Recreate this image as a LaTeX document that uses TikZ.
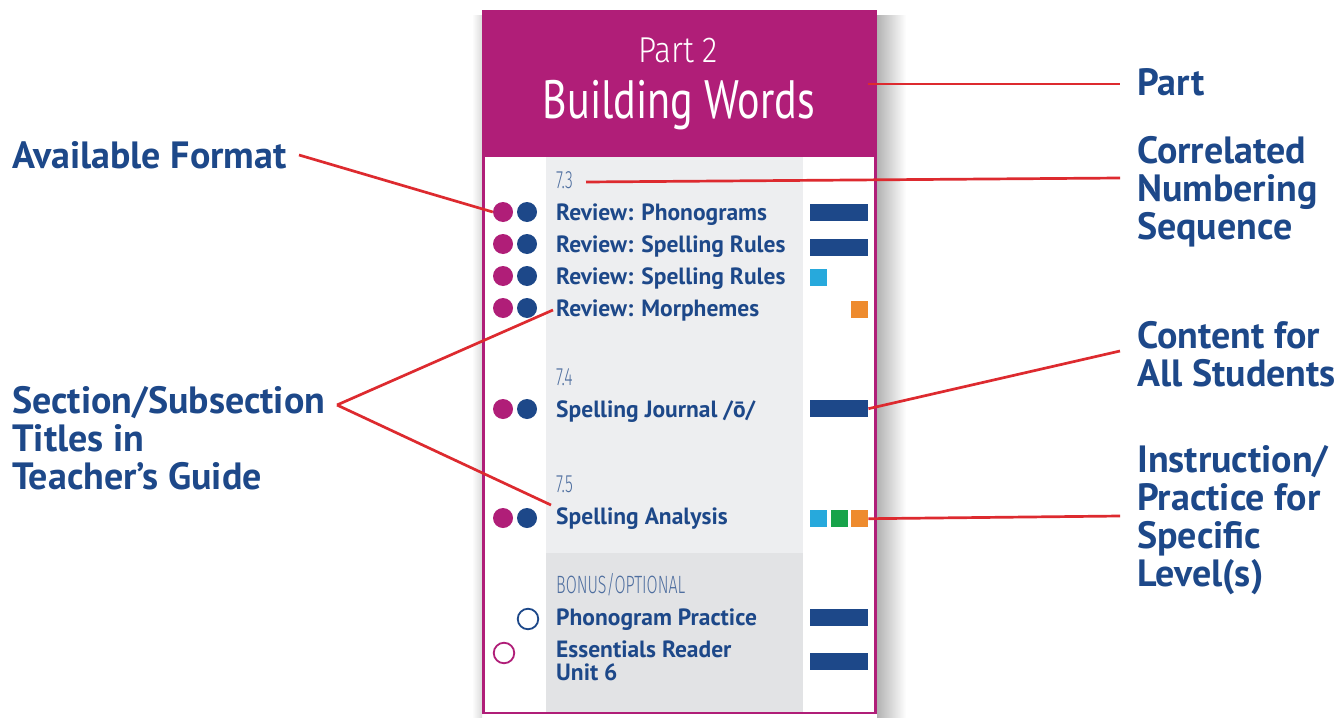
\documentclass[tikz,border=0pt]{standalone}
\usepackage{fontspec}
\setmainfont{PT Sans}
\newfontfamily\titlefont[FakeStretch=0.78]{PT Sans}
\newfontfamily\lightfont[FakeStretch=0.64]{Fira Sans Light}
\newfontfamily\partfont[FakeStretch=0.88]{Fira Sans Light}
\definecolor{mag}{HTML}{B01E78}
\definecolor{navy}{HTML}{1D4889}
\definecolor{cyanb}{HTML}{27A9DC}
\definecolor{greenb}{HTML}{17A34A}
\definecolor{orangeb}{HTML}{EE8B2E}
\definecolor{redl}{HTML}{DD2A2F}
\definecolor{numc}{HTML}{4E6E9F}
\definecolor{panel}{HTML}{EDEEF0}
\definecolor{panelb}{HTML}{E2E3E5}
\newcommand\mlines[1]{\begin{tabular}[t]{@{}l@{}}#1\end{tabular}}
\begin{document}
\begin{tikzpicture}[x=1pt,y=-1pt,
  lbl/.style={anchor=base west, inner sep=0pt, text=navy, font={\fontsize{38}{37.3}\selectfont\bfseries}},
  item/.style={anchor=base west, inner sep=0pt, text=navy, font={\fontsize{23.5}{23}\selectfont\bfseries}},
  num/.style={anchor=base west, inner sep=0pt, text=numc, font={\lightfont\fontsize{25}{25}\selectfont}},
  dotm/.style={circle, fill=mag, minimum size=20pt, inner sep=0pt},
  dotb/.style={circle, fill=navy, minimum size=20pt, inner sep=0pt},
  ringm/.style={circle, draw=mag, line width=1.8pt, fill=white, minimum size=20.5pt, inner sep=0pt},
  ringb/.style={circle, draw=navy, line width=1.8pt, fill=white, minimum size=20.5pt, inner sep=0pt},
  bar/.style={fill=navy, minimum width=58pt, minimum height=17pt, inner sep=0pt, anchor=north west},
  sq/.style={minimum width=17pt, minimum height=17pt, inner sep=0pt, anchor=north west},
  conn/.style={draw=redl, line width=2.7pt}]
\useasboundingbox (0,0) rectangle (1335,717);
\fill[white] (0,0) rectangle (1335,717);
% card shadow
\fill[left color=black!30, right color=white] (877,16) rectangle (906,717);
\fill[left color=white, right color=black!14] (472,16) rectangle (482,717);
% card body
\fill[white] (482,10) rectangle (877,714);
\fill[panel] (546,157) rectangle (803,553);
\fill[panelb] (546,553) rectangle (803,712);
\draw[mag, line width=2.5pt] (483.5,11) rectangle (875.5,713);
\fill[mag] (482,10) rectangle (877,157);
\node[anchor=base, inner sep=0pt, text=white, font={\partfont\fontsize{36}{36}\selectfont}] (part2) at (678,63) {Part 2};
\node[anchor=base, inner sep=0pt, text=white, font={\titlefont\fontsize{54}{54}\selectfont}] (bw) at (679,118) {Building Words};
% section 7.3
\node[num] (n73) at (556,188) {7.3};
\node[dotm] (m1) at (503,212) {};
\node[dotb] (d1) at (527,212) {};
\node[item] (t1) at (556,220) {Review: Phonograms};
\node[bar] (b1) at (810,204) {};
\node[dotm] (m2) at (503,244) {};
\node[dotb] (d2) at (527,244) {};
\node[item] (t2) at (556,252) {Review: Spelling Rules};
\node[bar] (b2) at (810,239) {};
\node[dotm] (m3) at (503,276) {};
\node[dotb] (d3) at (527,276) {};
\node[item] (t3) at (556,284) {Review: Spelling Rules};
\node[sq, fill=cyanb] (c3) at (810,269) {};
\node[dotm] (m4) at (503,308) {};
\node[dotb] (d4) at (527,308) {};
\node[item] (t4) at (556,316) {Review: Morphemes};
\node[sq, fill=orangeb] (o4) at (851,301) {};
% section 7.4
\node[num] (n74) at (556,385) {7.4};
\node[dotm] (m5) at (503,409) {};
\node[dotb] (d5) at (527,409) {};
\node[item] (t5) at (556,417) {Spelling Journal /ō/};
\node[bar] (b5) at (810,400) {};
% section 7.5
\node[num] (n75) at (556,492) {7.5};
\node[dotm] (m6) at (503,518) {};
\node[dotb] (d6) at (527,518) {};
\node[item] (t6) at (556,524) {Spelling Analysis};
\node[sq, fill=cyanb] (c6) at (810,510) {};
\node[sq, fill=greenb] (g6) at (831,510) {};
\node[sq, fill=orangeb] (o6) at (851,510) {};
% bonus
\node[num] (nb) at (556,593) {BONUS/OPTIONAL};
\node[ringb] (r7) at (528,619) {};
\node[item] (t7) at (556,625) {Phonogram Practice};
\node[bar] (b7) at (810,609) {};
\node[ringm] (r8) at (504,653) {};
\node[item] (t8) at (556,657) {\mlines{Essentials Reader\\Unit 6}};
\node[bar] (b8) at (810,653) {};
% labels
\node[lbl] (laf) at (12,168) {Available Format};
\node[lbl] (lsec) at (12,413) {\mlines{Section/Subsection\\Titles in\\Teacher’s Guide}};
\node[lbl] (lpart) at (1137,95) {Part};
\node[lbl] (lcor) at (1137,163) {\mlines{Correlated\\Numbering\\Sequence}};
\node[lbl] (lcon) at (1137,348) {\mlines{Content for\\All Students}};
\node[lbl] (lins) at (1137,472) {\mlines{Instruction/\\Practice for\\Specific\\Level(s)}};
% connector ends
\coordinate (afend) at (299,155);
\coordinate (secv) at (337,405);
\coordinate (partin) at (868,84);
\coordinate (partend) at (1120,84);
\coordinate (corin) at (586,182);
\coordinate (corend) at (1120,178);
\coordinate (conend) at (1120,351);
\coordinate (insend) at (1120,516);
% connectors
\draw[conn] (afend) -- (m1.west);
\draw[conn] (secv) -- ([xshift=-3pt]t4.west);
\draw[conn] (secv) -- ([xshift=-5pt,yshift=2pt]t6.north west);
\draw[conn] (partin) -- (partend);
\draw[conn] (corin) -- (corend);
\draw[conn] (b5.east) -- (conend);
\draw[conn] (o6.east) -- (insend);
\end{tikzpicture}
\end{document}
